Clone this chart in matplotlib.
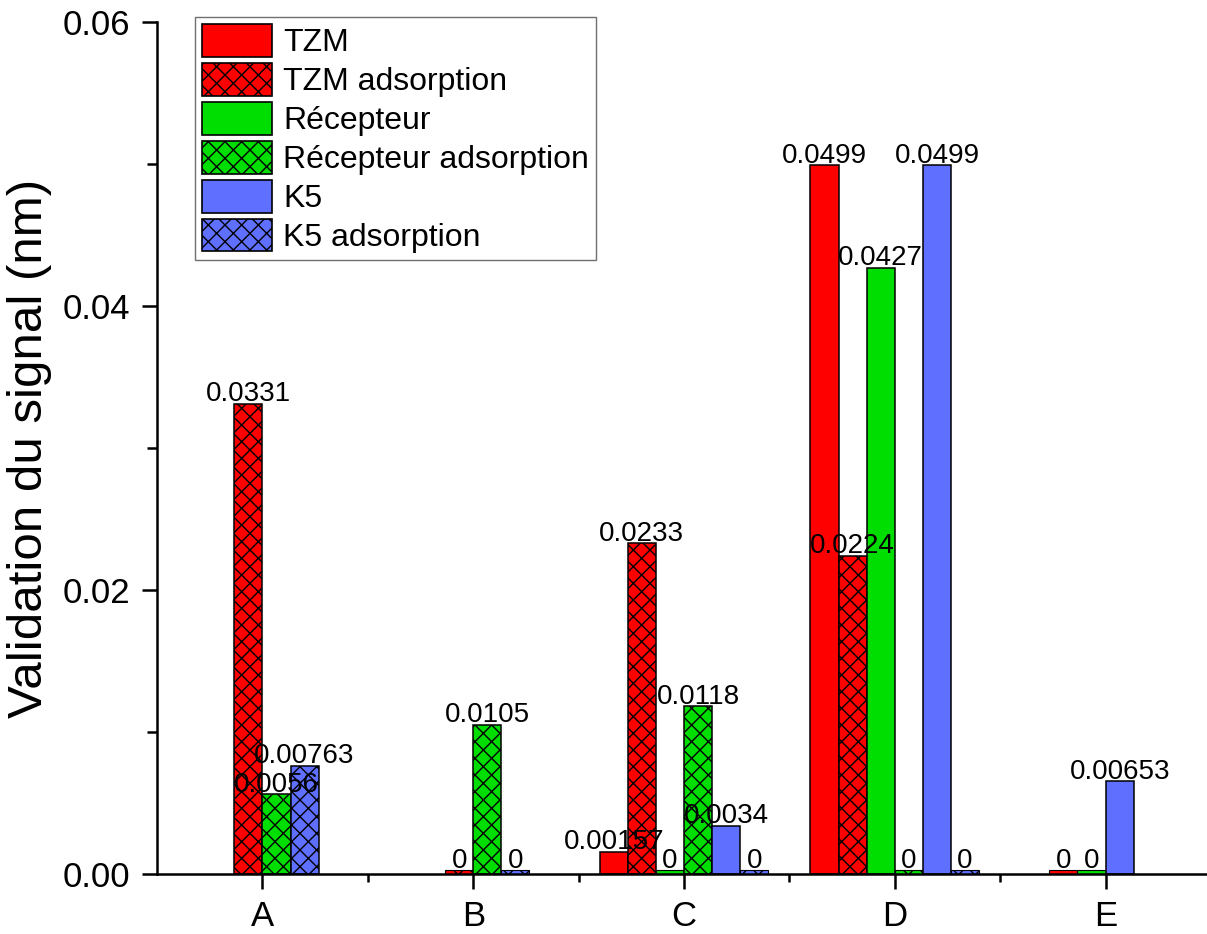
import numpy as np
import matplotlib
matplotlib.use("Agg")
import matplotlib.pyplot as plt
from matplotlib.patches import Rectangle, Patch
from matplotlib.transforms import blended_transform_factory
from matplotlib.ticker import MultipleLocator, FixedLocator, FormatStrFormatter

plt.rcParams['font.family'] = ['Liberation Sans', 'DejaVu Sans']
plt.rcParams['hatch.linewidth'] = 1.0

nan = np.nan
categories = ['A', 'B', 'C', 'D', 'E']

series_names = ['TZM', 'TZM adsorption', 'Récepteur', 'Récepteur adsorption',
                'K5', 'K5 adsorption']
tzm = [nan, nan, 0.00157, 0.0499, 0]
tzm_ads = [0.0331, 0, 0.0233, 0.0224, nan]
recepteur = [nan, nan, 0, 0.0427, 0]
recepteur_ads = [0.0056, 0.0105, 0.0118, 0, nan]
k5 = [nan, nan, 0.0034, 0.0499, 0.00653]
k5_ads = [0.00763, 0, 0, 0, nan]
series_values = [tzm, tzm_ads, recepteur, recepteur_ads, k5, k5_ads]

# styling per series
colors = ['#FF0000', '#FF0000', '#00DD00', '#00DD00', '#5F6FFF', '#5F6FFF']
hatches = [None, 'xx', None, 'xx', None, 'xx']

# first slot used in each group; present bars are packed from there
first_slot = [2, 2, 0, 0, 1]
n_slots = 6
bar_w = 0.8 / n_slots

fig = plt.figure(figsize=(12.07, 9.34), dpi=100)
ax = fig.add_axes([157 / 1207, 60 / 934, (1211 - 157) / 1207, 852 / 934])

x_pos = np.arange(1, len(categories) + 1)
stub_frac = 4 / 852  # visible thickness for zero-valued bars (axes fraction)
stub_trans = blended_transform_factory(ax.transData, ax.transAxes)

for ci, xc in enumerate(x_pos):
    slot = first_slot[ci]
    for si, vals in enumerate(series_values):
        v = vals[ci]
        if np.isnan(v):
            continue
        left = xc - 0.4 + slot * bar_w
        slot += 1
        ax.bar(left, v, width=bar_w, align='edge', color=colors[si],
               hatch=hatches[si], edgecolor='black', linewidth=1.1, zorder=2)
        if v == 0:
            ax.add_patch(Rectangle((left, 0), bar_w, stub_frac, transform=stub_trans,
                                   facecolor=colors[si], hatch=hatches[si],
                                   edgecolor='black', linewidth=0.8, zorder=2))
            off = 4.5
        else:
            off = 1.8
        ax.annotate(f'{v:g}', (left + bar_w / 2, v), xytext=(0, off),
                    textcoords='offset points', ha='center', va='baseline',
                    fontsize=20, zorder=3)

ax.set_xlim(0.5, 5.5)
ax.set_ylim(0, 0.06)
ax.set_xticks(x_pos)
ax.set_xticklabels(categories)
ax.xaxis.set_minor_locator(FixedLocator(np.arange(1.5, 5.6, 1.0)))
ax.yaxis.set_major_locator(MultipleLocator(0.02))
ax.yaxis.set_minor_locator(MultipleLocator(0.01))
ax.yaxis.set_major_formatter(FormatStrFormatter('%.2f'))

for side in ('top', 'right'):
    ax.spines[side].set_visible(False)
for side in ('left', 'bottom'):
    ax.spines[side].set_linewidth(1.8)
    ax.spines[side].set_zorder(4)

ax.tick_params(axis='both', which='major', direction='out', length=11, width=1.8,
               labelsize=25, pad=8)
ax.tick_params(axis='x', which='minor', direction='out', length=6, width=1.8)
ax.tick_params(axis='y', which='minor', direction='out', length=7, width=1.8)

ax.set_ylabel('Validation du signal (nm)', fontsize=35.5, labelpad=8)

handles = [Patch(facecolor=c, hatch=h, edgecolor='black', linewidth=1.2)
           for c, h in zip(colors, hatches)]
leg = fig.legend(handles, series_names, loc='upper left',
                 bbox_to_anchor=(195 / 1207, 1 - 17 / 934), fontsize=23,
                 frameon=True, fancybox=False, handlelength=2.2, handleheight=1.2,
                 handletextpad=0.35, labelspacing=0.15, borderpad=0.22,
                 borderaxespad=0, framealpha=1)
leg.get_frame().set_edgecolor('#707070')
leg.get_frame().set_linewidth(1.0)

fig.savefig('out.png', dpi=100)
